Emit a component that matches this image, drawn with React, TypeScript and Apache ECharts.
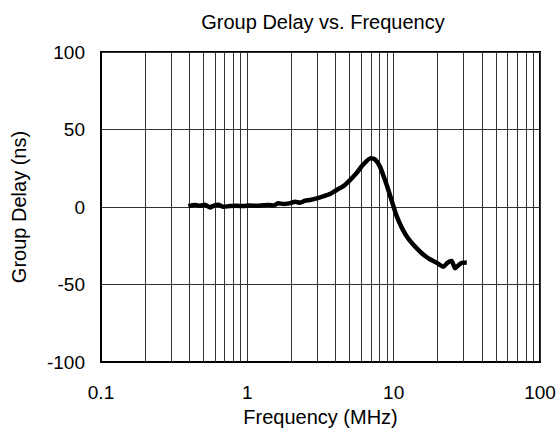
import React, { useEffect, useRef } from "react";
import * as echarts from "echarts";

const freqMHz = [
  0.395, 0.439, 0.475, 0.514, 0.556, 0.586, 0.634, 0.685, 0.762, 0.846, 0.939,
  1.04, 1.16, 1.29, 1.39, 1.51, 1.63, 1.76, 1.96, 2.12, 2.29, 2.48, 2.68, 2.98,
  3.29, 3.7, 4.08, 4.53, 5.03, 5.59, 6.2, 6.97, 7.5, 8.07, 8.6, 9.2, 10.5, 12.3,
  15.2, 17.5, 19.7, 21.9, 23.3, 24.9, 26.3, 27.8, 29.2, 31.6,
];
const delayNs = [
  0.6, 1.3, 0.8, 1.5, -0.3, 0.8, 1.5, 0.1, 0.6, 0.8, 0.6, 0.9, 0.8, 1.1, 1.3,
  0.9, 2.4, 1.9, 2.5, 3.4, 2.8, 4.1, 4.5, 5.6, 6.8, 8.5, 11, 13.5, 17.4, 22,
  27.5, 31.5, 30.5, 26, 19, 11, -6, -19, -29, -33.5, -36, -38.5, -36, -34.8,
  -39.5, -37.5, -36, -35.8,
];
const decades = [0.1, 1, 10];
const minorSteps = [2, 3, 4, 5, 6, 7, 8, 9];
const yTicks = [-100, -50, 0, 50, 100];

const FONT = "'Liberation Sans', Arial, sans-serif";

export default function App() {
  const ref = useRef<HTMLDivElement>(null);
  useEffect(() => {
    if (!ref.current) return;
    const chart = echarts.init(ref.current, undefined, { renderer: "svg" });
    const minorLines: any[] = [];
    decades.forEach((d) =>
      minorSteps.forEach((s) => minorLines.push({ xAxis: +(d * s).toPrecision(3) }))
    );
    chart.setOption({
      animation: false,
      backgroundColor: "#fff",
      title: {
        text: "Group Delay vs. Frequency",
        left: 318,
        top: 7,
        textAlign: "center",
        textStyle: { fontSize: 20, fontWeight: "normal", color: "#000", fontFamily: FONT },
      },
      grid: {
        left: 101,
        right: 18,
        top: 52,
        bottom: 69,
        show: true,
        borderColor: "#000",
        borderWidth: 2,
        backgroundColor: "transparent",
        outerBoundsMode: "none",
        containLabel: false,
      },
      xAxis: {
        type: "log",
        logBase: 10,
        min: 0.1,
        max: 100,
        name: "Frequency (MHz)",
        nameLocation: "middle",
        nameGap: 36,
        nameTextStyle: { fontSize: 20, color: "#000", fontFamily: FONT },
        axisLine: { show: true, onZero: false, lineStyle: { color: "#000", width: 2 } },
        axisTick: { show: false },
        axisLabel: {
          fontSize: 19,
          color: "#000",
          fontFamily: FONT,
          margin: 21,
          showMinLabel: true,
          showMaxLabel: true,
          formatter: (v: number) => String(+v.toPrecision(3)),
        },
        splitLine: { show: true, lineStyle: { color: "#333", width: 1 } },
      },
      yAxis: {
        type: "value",
        min: yTicks[0],
        max: yTicks[yTicks.length - 1],
        interval: 50,
        name: "Group Delay (ns)",
        nameLocation: "middle",
        nameGap: 72,
        nameTextStyle: { fontSize: 20, color: "#000", fontFamily: FONT },
        axisLine: { show: true, onZero: false, lineStyle: { color: "#000", width: 2 } },
        axisTick: { show: false },
        axisLabel: { fontSize: 19, color: "#000", fontFamily: FONT, margin: 16 },
        splitLine: { show: true, lineStyle: { color: "#333", width: 1 } },
      },
      series: [
        {
          type: "line",
          data: [],
          z: 1,
          silent: true,
          markLine: {
            silent: true,
            symbol: ["none", "none"],
            label: { show: false },
            lineStyle: { color: "#333", width: 1, type: "solid" },
            emphasis: { disabled: true },
            data: minorLines,
          },
        },
        {
          type: "line",
          z: 5,
          data: freqMHz.map((f, i) => [f, delayNs[i]]),
          showSymbol: false,
          symbol: "none",
          smooth: 0.2,
          lineStyle: { color: "#000", width: 4.5 },
        },
      ],
    });
    return () => chart.dispose();
  }, []);
  return <div ref={ref} style={{ width: 558, height: 431, position: "absolute", left: 0, top: 0 }} />;
}
